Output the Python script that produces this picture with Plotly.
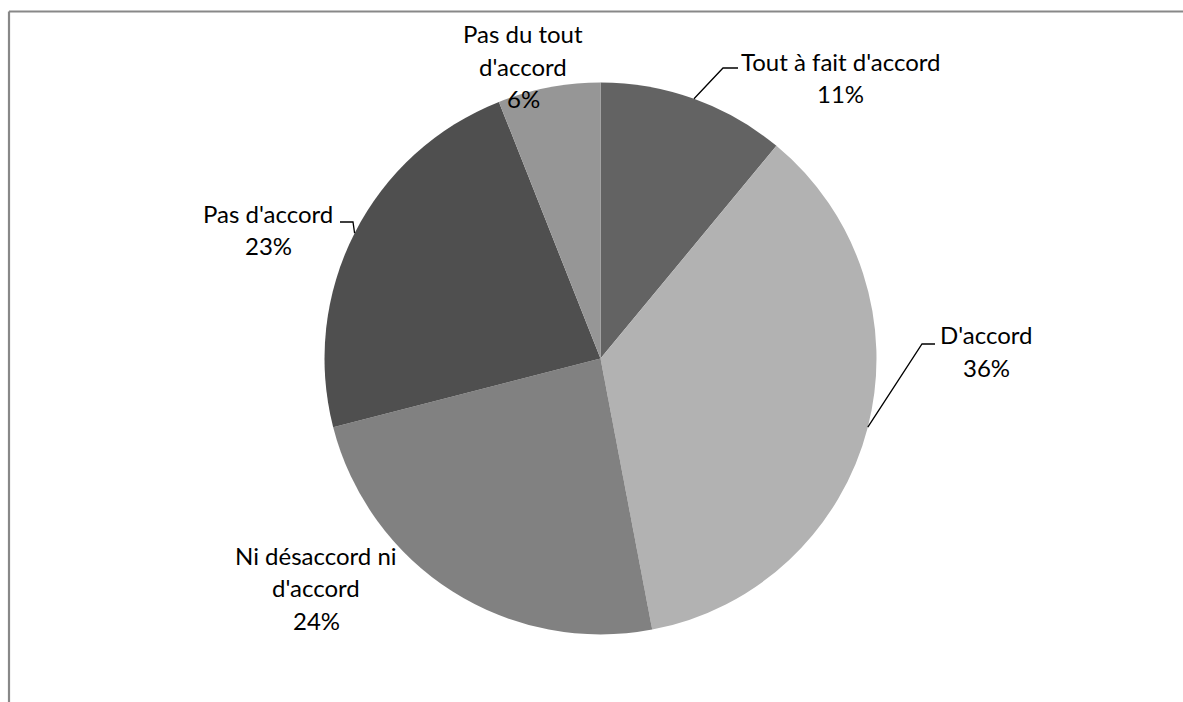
import math
import plotly.graph_objects as go

# ---- data ----
categories = ["Tout à fait d'accord", "D'accord", "Ni désaccord ni d'accord",
              "Pas d'accord", "Pas du tout d'accord"]
values = [11, 36, 24, 23, 6]
label_lines = [["Tout à fait d'accord"], ["D'accord"], ["Ni désaccord ni", "d'accord"],
               ["Pas d'accord"], ["Pas du tout", "d'accord"]]

# ---- style / layout ----
W, H = 1183, 702
colors = ["#636363", "#b2b2b2", "#818181", "#4f4f4f", "#969696"]
CX, CY, R = 600.5, 358.5, 276.0
FONT = "Lato"
FS = 24
LINE_STEP = 32.5
# first-line centre (px) of each label
label_pos = [(841, 61), (986, 335), (316, 555), (268, 213), (523, 34)]
# leader elbows and ends (px); None = no leader
leaders = [((723, 68), (738, 68)), ((922, 344), (935, 344)), None,
           ((353, 222), (340, 222)), None]


def px(x, y):
    return x / W, 1 - y / H


fig = go.Figure()
fig.add_trace(go.Pie(
    labels=categories, values=values, sort=False, direction="clockwise",
    rotation=0, marker=dict(colors=colors, line=dict(width=0)),
    textinfo="none", hoverinfo="label+percent", showlegend=False,
    domain=dict(x=[(CX - R) / W, (CX + R) / W], y=[1 - (CY + R) / H, 1 - (CY - R) / H]),
))

total = sum(values)
annotations = []
shapes = []
cum = 0
for i, v in enumerate(values):
    mid = (cum + v / 2) / total * 2 * math.pi
    cum += v
    pct = f"{round(v / total * 100)}%"
    lines = label_lines[i] + [pct]
    lx, ly = label_pos[i]
    for k, t in enumerate(lines):
        x, y = px(lx, ly + k * LINE_STEP)
        annotations.append(dict(x=x, y=y, xref="paper", yref="paper", text=t,
                                showarrow=False, xanchor="center", yanchor="middle",
                                font=dict(family=FONT, size=FS, color="#000000")))
    if leaders[i] is not None:
        ex, ey = CX + R * math.sin(mid), CY - R * math.cos(mid)
        (bx, by), (tx, ty) = leaders[i]
        path_pts = [px(ex, ey), px(bx, by), px(tx, ty)]
        path = "M " + " L ".join(f"{a},{b}" for a, b in path_pts)
        shapes.append(dict(type="path", path=path, xref="paper", yref="paper",
                           line=dict(color="#000000", width=1.3)))

# outer frame (top + left visible)
shapes.append(dict(type="line", xref="paper", yref="paper", x0=9 / W, y0=1 - 11.5 / H,
                   x1=1.0, y1=1 - 11.5 / H, line=dict(color="#888888", width=2.2)))
shapes.append(dict(type="line", xref="paper", yref="paper", x0=9 / W, y0=1 - 11.5 / H,
                   x1=9 / W, y1=0, line=dict(color="#888888", width=2.2)))

fig.update_layout(width=W, height=H, margin=dict(l=0, r=0, t=0, b=0),
                  paper_bgcolor="white", plot_bgcolor="white",
                  annotations=annotations, shapes=shapes)
fig.write_html("out.html", config={"displayModeBar": False},
               post_script="document.body.style.margin='0';document.body.style.overflow='hidden';")
